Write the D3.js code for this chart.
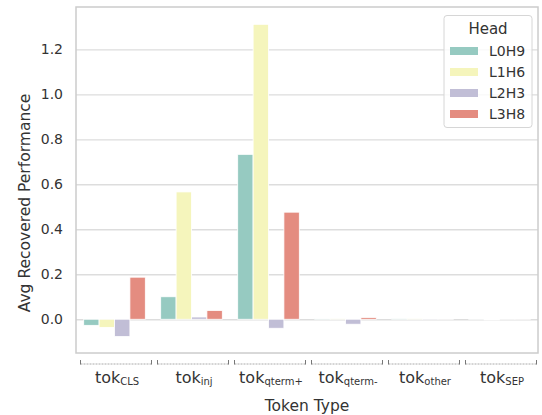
<!DOCTYPE html>
<html>
<head>
<meta charset="utf-8">
<script src="https://cdn.jsdelivr.net/npm/d3@7"></script>
<style>
  html, body { margin: 0; padding: 0; background: #fff; }
  svg { display: block; }
  text { font-family: "DejaVu Sans", sans-serif; fill: #333; }
</style>
</head>
<body>
<svg id="chart" width="542" height="415"></svg>
<script>
// ---- data ----
const categories = ["CLS", "inj", "qterm+", "qterm-", "other", "SEP"];
const heads = ["L0H9", "L1H6", "L2H3", "L3H8"];
const L0H9 = [-0.027, 0.100, 0.733, 0.003, 0.004, 0.000];
const L1H6 = [-0.036, 0.566, 1.311, 0.002, 0.002, -0.003];
const L2H3 = [-0.077, 0.010, -0.040, -0.022, 0.001, 0.000];
const L3H8 = [0.187, 0.039, 0.476, 0.008, 0.000, 0.000];
const yTicks = [0.0, 0.2, 0.4, 0.6, 0.8, 1.0, 1.2];
const colors = ["#96cac1", "#f5f5bc", "#c1bed6", "#e48c80"];
const seriesValues = [L0H9, L1H6, L2H3, L3H8];

const svg = d3.select("#chart");
const mLeft = 76, mRight = 538, mTop = 7, mBottom = 353;

const x0 = d3.scaleBand().domain(categories).range([mLeft, mRight]).padding(0);
const x1 = d3.scaleBand().domain(heads).range([x0.bandwidth() * 0.1, x0.bandwidth() * 0.9]).padding(0);
const y = d3.scaleLinear().domain([-0.15, 1.388]).range([mBottom, mTop]);
const color = d3.scaleOrdinal().domain(heads).range(colors);

// gridlines
const yAxis = d3.axisLeft(y).tickValues(yTicks).tickFormat(d3.format(".1f")).tickSize(-(mRight - mLeft)).tickPadding(13);
const gy = svg.append("g").attr("transform", `translate(${mLeft},0)`).call(yAxis);
gy.select(".domain").remove();
gy.selectAll(".tick line").attr("stroke", "#dddddd").attr("stroke-width", 1.3);
gy.selectAll(".tick text").attr("font-size", 14).attr("fill", "#333").attr("font-family", "DejaVu Sans");

// bars
const rows = [];
categories.forEach((c, i) => heads.forEach((h, j) => rows.push({ cat: c, head: h, value: seriesValues[j][i] })));
svg.append("g").selectAll("rect").data(rows).join("rect")
  .attr("x", d => x0(d.cat) + x1(d.head))
  .attr("width", x1.bandwidth())
  .attr("y", d => Math.min(y(d.value), y(0)))
  .attr("height", d => Math.max(Math.abs(y(d.value) - y(0)), 0.01))
  .attr("fill", d => color(d.head))
  .attr("stroke", "#ffffff")
  .attr("stroke-width", 0.8);

// frame
svg.append("rect").attr("x", mLeft).attr("y", mTop).attr("width", mRight - mLeft).attr("height", mBottom - mTop)
  .attr("fill", "none").attr("stroke", "#cccccc").attr("stroke-width", 1.5);

// brackets and labels
const bg = svg.append("g");
categories.forEach(c => {
  const cx = x0(c) + x0.bandwidth() / 2 + 1.5;
  const hw = 35.5;
  bg.append("line").attr("x1", cx - hw).attr("x2", cx + hw).attr("y1", 364).attr("y2", 364)
    .attr("stroke", "#aaaaaa").attr("stroke-width", 1).attr("stroke-dasharray", "2,1");
  bg.append("path").attr("d", `M${cx - hw},360V364.5M${cx + hw},360V364.5`)
    .attr("stroke", "#777").attr("stroke-width", 1).attr("fill", "none");
  const t = bg.append("text").attr("x", cx + 1).attr("y", 383).attr("text-anchor", "middle")
    .attr("font-family", "Liberation Sans, Arial, sans-serif").attr("fill", "#444");
  t.append("tspan").attr("font-size", 16).text("tok");
  t.append("tspan").attr("font-size", 10).attr("dy", 1.5).text(c);
});

// axis titles
svg.append("text").attr("x", (mLeft + mRight) / 2).attr("y", 411).attr("text-anchor", "middle")
  .attr("font-size", 15.5).text("Token Type");
svg.append("text").attr("transform", "translate(30,203) rotate(-90)").attr("text-anchor", "middle")
  .attr("font-size", 15.5).text("Avg Recovered Performance");

// legend
const lg = svg.append("g");
lg.append("rect").attr("x", 444).attr("y", 15.5).attr("width", 88).attr("height", 112).attr("rx", 3)
  .attr("fill", "#ffffff").attr("fill-opacity", 0.8).attr("stroke", "#d6d6d6").attr("stroke-width", 1);
lg.append("text").attr("x", 488).attr("y", 34).attr("text-anchor", "middle").attr("font-size", 15).text("Head");
heads.forEach((h, i) => {
  const cy = 51 + i * 21;
  lg.append("rect").attr("x", 450).attr("y", cy - 4).attr("width", 28).attr("height", 8).attr("fill", color(h));
  lg.append("text").attr("x", 489).attr("y", cy + 5).attr("font-size", 14).text(h);
});
</script>
</body>
</html>
